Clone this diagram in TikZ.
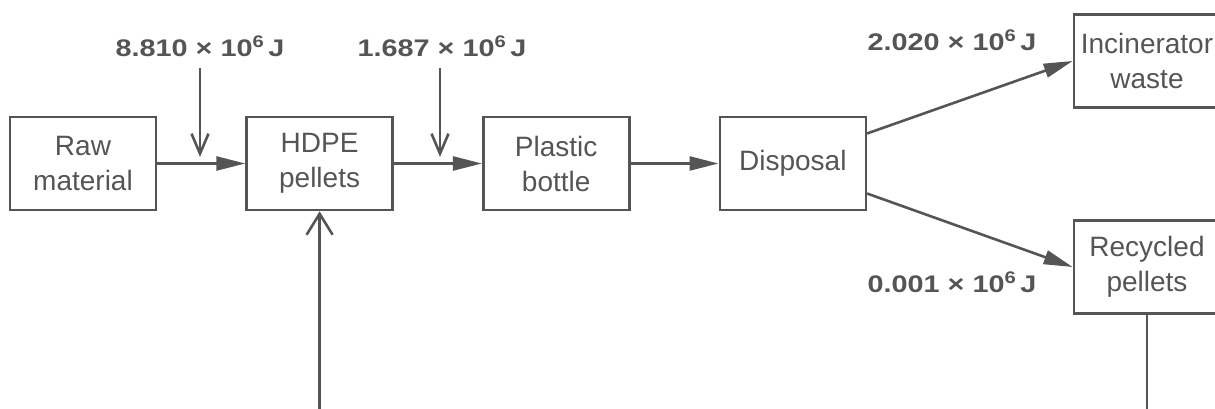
\documentclass[tikz,border=0pt]{standalone}
\usepackage{fontspec}
\setmainfont{Liberation Sans}
\newfontfamily\labfont[FakeStretch=1.2]{Liberation Sans}
\usetikzlibrary{arrows.meta,positioning}
\definecolor{ink}{HTML}{555555}

\begin{document}
\begin{tikzpicture}[x=1pt,y=1pt,node distance=88pt,line width=2.6pt,draw=ink,text=ink]
  \tikzstyle{box}=[draw=ink,minimum width=146pt,minimum height=93pt,inner sep=0pt,align=center,
    font=\fontsize{28}{35}\selectfont]
  \tikzstyle{flow}=[draw=ink,-{Triangle[length=29pt,width=14pt]}]
  \tikzstyle{energy}=[draw=ink,-{Straight Barb[length=20pt,width=17pt]}]
  \tikzstyle{lab}=[anchor=base,inner sep=0pt,font=\labfont\bfseries\fontsize{24}{28}\selectfont]
  \useasboundingbox (0,0) rectangle (1215,409);
  \node[box] (raw) at (83,245.5) {Raw\\material};
  \node[box,right=of raw] (hdpe) {HDPE\\pellets};
  \node[box,right=of hdpe] (bottle) {Plastic\\bottle};
  \node[box,right=of bottle] (disp) {Disposal};
  \node[box,right=205.6pt of disp,yshift=102.5pt] (incin) {Incinerator\\waste};
  \node[box,right=205.6pt of disp,yshift=-103.5pt] (recyc) {Recycled\\pellets};
  \draw[flow] (raw) -- (hdpe);
  \draw[flow] (hdpe) -- (bottle);
  \draw[flow] (bottle) -- (disp);
  \draw[flow] (disp.22) -- (incin.west);
  \draw[flow] (disp.-22) -- (recyc.west);
  % energy inputs
  \node[lab] (e1) at (200,352) {8.810 × 10\textsuperscript{6}\,J};
  \node[lab] (e2) at (442,352) {1.687 × 10\textsuperscript{6}\,J};
  \node[lab] (e3) at (952,358) {2.020 × 10\textsuperscript{6}\,J};
  \node[lab] (e4) at (952,116) {0.001 × 10\textsuperscript{6}\,J};
  \coordinate (in1) at (200,341);
  \coordinate (in1e) at (200,252);
  \coordinate (in2) at (440,341);
  \coordinate (in2e) at (440,252);
  \draw[energy] (in1) -- (in1e);
  \draw[energy] (in2) -- (in2e);
  % recycling loop
  \coordinate (loopin) at (hdpe.south |- 0,0);
  \coordinate (loopout) at (recyc.south |- 0,0);
  \draw[draw=ink,-{Straight Barb[length=21pt,width=26pt]}] (loopin) -- (hdpe.south);
  \draw[draw=ink] (recyc.south) -- (loopout);
\end{tikzpicture}
\end{document}
